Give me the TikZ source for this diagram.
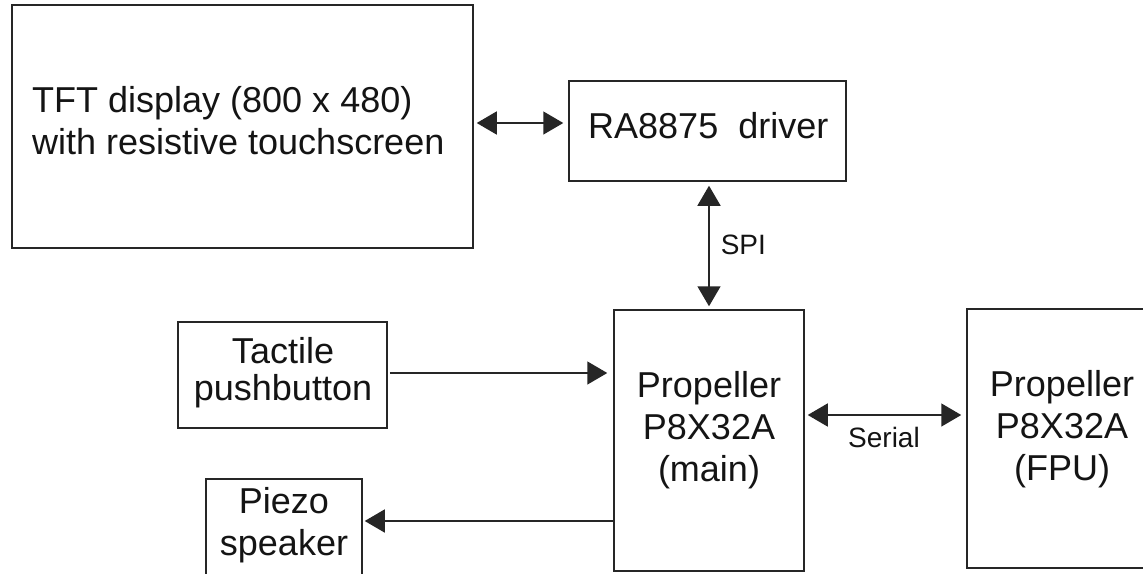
\documentclass[tikz,border=0pt]{standalone}
\usepackage{fontspec}
\setmainfont{Liberation Sans}
\usetikzlibrary{arrows.meta}
\begin{document}
\begin{tikzpicture}[x=1pt,y=-1pt,
  box/.style={draw=black!85, line width=1.5pt, inner sep=0pt},
  big/.style={font=\fontsize{36}{42}\selectfont, inner sep=0pt, text=black!92},
  small/.style={font=\fontsize{28}{33}\selectfont, inner sep=0pt, text=black!92},
  conn/.style={draw=black!85, line width=1.5pt},
  onearrow/.style={conn, -{Triangle[length=20pt,width=23pt]}},
  twoarrow/.style={conn, {Triangle[length=20pt,width=23pt]}-{Triangle[length=20pt,width=23pt]}}
]
\clip (0,0) rectangle (1143,573);
\fill[white] (0,0) rectangle (1143,573);

% boxes
\node[box, minimum width=461pt, minimum height=243pt] (tft) at (242.5,126.5) {};
\node[box, minimum width=277pt, minimum height=100pt] (ra) at (707.5,131) {};
\node[box, minimum width=190pt, minimum height=261pt] (main) at (709,440.5) {};
\node[box, minimum width=190pt, minimum height=259pt] (fpu) at (1062,438.5) {};
\node[box, minimum width=209pt, minimum height=106pt] (tact) at (282.5,375) {};
\node[box, minimum width=156pt, minimum height=130pt] (piezo) at (284,544) {};

% texts (base anchor = baseline of the last line)
\node[big, align=left, anchor=base west] (tftt) at (32,154) {TFT display (800 x 480)\\with resistive touchscreen};
\node[big, anchor=base west] (rat) at (588,138) {RA8875\ \ driver};
\node[big, align=center, anchor=base] (maint) at (709,481) {Propeller\\P8X32A\\(main)};
\node[big, align=center, anchor=base] (fput) at (1062,480) {Propeller\\P8X32A\\(FPU)};
\node[big, align=center, anchor=base, font=\fontsize{36}{37}\selectfont] (tactt) at (283,400) {Tactile\\pushbutton};
\node[big, align=center, anchor=base] (piezot) at (284,555) {Piezo\\speaker};

% connectors
\draw[twoarrow, shorten <=3pt, shorten >=5pt] (tft.east |- 0,123) -- (ra.west |- 0,123);
\draw[twoarrow, shorten <=4pt, shorten >=3pt] (ra.south -| 709,0) -- (main.north -| 709,0)
  node[small, pos=0.57, anchor=base west, xshift=11pt] (spi) {SPI};
\draw[onearrow, shorten <=2pt, shorten >=6pt] (tact.east |- 0,373) -- (main.west |- 0,373);
\draw[onearrow, shorten >=2pt] (main.west |- 0,521) -- (piezo.east |- 0,521);
\draw[twoarrow, shorten <=3pt, shorten >=5pt] (main.east |- 0,415) -- (fpu.west |- 0,415);
\node[small, anchor=base west] (serial) at (848,447) {Serial};
\end{tikzpicture}
\end{document}
